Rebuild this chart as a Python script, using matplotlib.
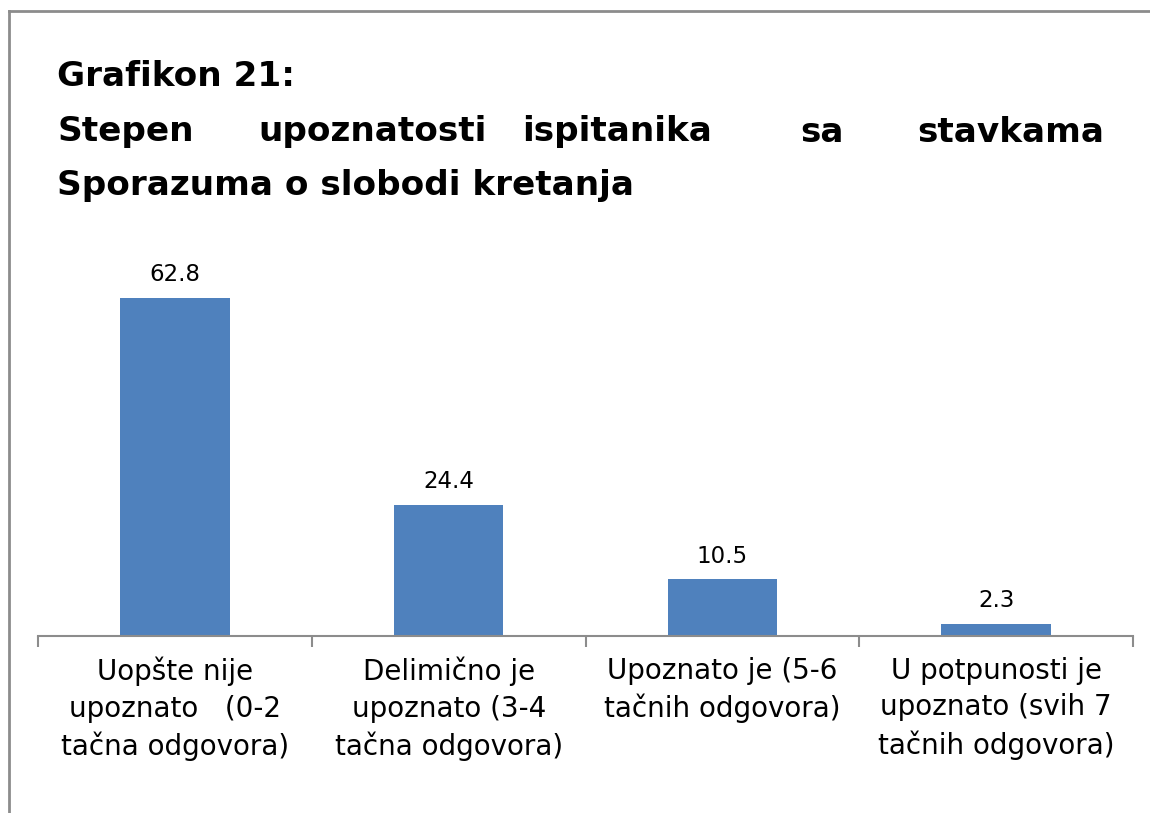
import matplotlib
matplotlib.use("Agg")
import matplotlib.pyplot as plt
from matplotlib.lines import Line2D

categories = ["Uopšte nije\nupoznato   (0-2\ntačna odgovora)",
              "Delimično je\nupoznato (3-4\ntačna odgovora)",
              "Upoznato je (5-6\ntačnih odgovora)",
              "U potpunosti je\nupoznato (svih 7\ntačnih odgovora)"]
values = [62.8, 24.4, 10.5, 2.3]
value_labels = ["62.8", "24.4", "10.5", "2.3"]

W, H = 1150, 813
fig = plt.figure(figsize=(W / 100, H / 100), dpi=100)
fig.patch.set_facecolor("white")

# frame piece (top and left border visible)
fig.add_artist(Line2D([9 / W, 9 / W], [0, 1 - 11 / H], color="#8c8c8c", lw=2))
fig.add_artist(Line2D([9 / W, 1], [1 - 11 / H, 1 - 11 / H], color="#8c8c8c", lw=2))

# title
tfont = dict(fontsize=24.7, fontweight="bold", family="DejaVu Sans", color="black", va="center")
fig.text(57 / W, 1 - 77 / H, "Grafikon 21:", ha="left", **tfont)
words = [("Stepen", 57, "left"), ("upoznatosti", 258, "left"), ("ispitanika", 522, "left"),
         ("sa", 800, "left"), ("stavkama", 1104, "right")]
for w, x, ha in words:
    fig.text(x / W, 1 - 132 / H, w, ha=ha, **tfont)
fig.text(57 / W, 1 - 186 / H, "Sporazuma o slobodi kretanja", ha="left", **tfont)

# axes
ymax = 70
ppu = 338 / 62.8
ax_left, ax_right, ax_bottom = 38, 1133, 636
ax_top = ax_bottom - ymax * ppu
ax = fig.add_axes([ax_left / W, 1 - ax_bottom / H, (ax_right - ax_left) / W, (ax_bottom - ax_top) / H])

x = range(len(values))
ax.bar(x, values, width=0.4, color="#4f81bd", zorder=2)
for i, (v, lab) in enumerate(zip(values, value_labels)):
    ax.text(i, v + 2.2, lab, ha="center", va="bottom", fontsize=16.5, family="DejaVu Sans")

ax.set_xlim(-0.5, len(values) - 0.5)
ax.set_ylim(0, ymax)
for s in ["top", "right", "left"]:
    ax.spines[s].set_visible(False)
ax.spines["bottom"].set_color("#8c8c8c")
ax.spines["bottom"].set_linewidth(1.5)
ax.set_yticks([])
ax.set_xticks([-0.5 + i for i in range(len(values) + 1)], minor=False)
ax.set_xticklabels([])
ax.tick_params(axis="x", which="major", length=8, width=1.5, color="#8c8c8c")
ax.set_xticks(list(x), minor=True)
ax.set_xticklabels(categories, minor=True, fontsize=20, family="DejaVu Sans", va="top", linespacing=1.38)
ax.tick_params(axis="x", which="minor", length=0, pad=15)

fig.savefig("out.png", dpi=100)
